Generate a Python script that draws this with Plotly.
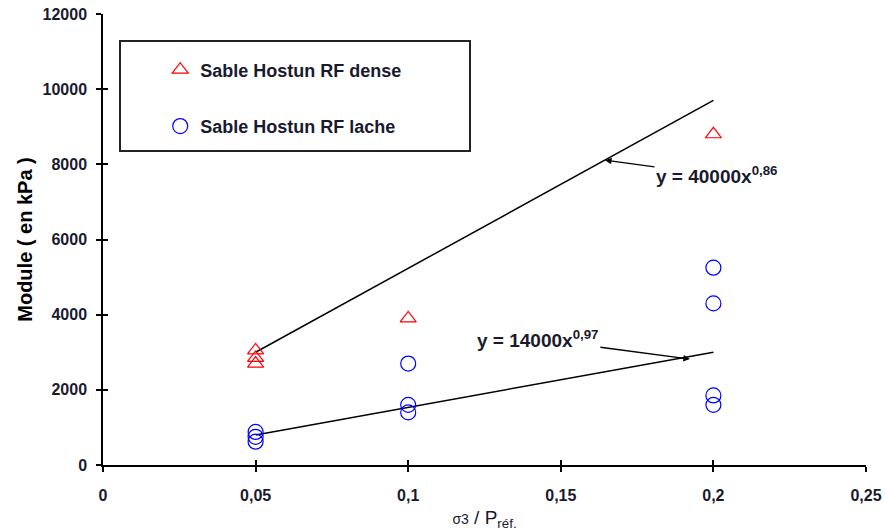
import plotly.graph_objects as go

# Data
dense_x = [0.05, 0.05, 0.05, 0.1, 0.2]
dense_y = [3050, 2850, 2700, 3900, 8800]
lache_x = [0.05, 0.05, 0.05, 0.1, 0.1, 0.1, 0.2, 0.2, 0.2, 0.2]
lache_y = [880, 750, 620, 2700, 1600, 1400, 5250, 4300, 1850, 1600]
fit_x = [0.05, 0.2]
fit_dense = [3000, 9700]
fit_lache = [800, 3000]
x_ticks = [0, 0.05, 0.1, 0.15, 0.2, 0.25]
x_labels = ["0", "0,05", "0,1", "0,15", "0,2", "0,25"]
y_ticks = [0, 2000, 4000, 6000, 8000, 10000, 12000]
y_labels = ["0", "2000", "4000", "6000", "8000", "10000", "12000"]
eq_dense = "y = 40000x<sup>0,86</sup>"
eq_lache = "y = 14000x<sup>0,97</sup>"
eq_dense_tip = (0.1645, 8110)
eq_lache_tip = (0.1923, 2820)

FONT = "Liberation Sans, Arial, sans-serif"
TXT = "#1a1a2e"

fig = go.Figure()
fig.add_trace(go.Scatter(x=fit_x, y=fit_dense, mode="lines",
                         line=dict(color="black", width=1.5), showlegend=False))
fig.add_trace(go.Scatter(x=fit_x, y=fit_lache, mode="lines",
                         line=dict(color="black", width=1.5), showlegend=False))
fig.add_trace(go.Scatter(x=dense_x, y=dense_y, mode="markers", name="Sable Hostun RF dense",
                         legendgroup="a",
                         marker=dict(symbol="triangle-up-open", size=14, color="#ff0000",
                                     line=dict(width=1.2, color="#ff0000"))))
fig.add_trace(go.Scatter(x=lache_x, y=lache_y, mode="markers", name="Sable Hostun RF lache",
                         legendgroup="b",
                         marker=dict(symbol="circle-open", size=15, color="#0000ff",
                                     line=dict(width=1.2, color="#0000ff"))))
# invisible trace carrying the mirrored (inside) ticks
fig.add_trace(go.Scatter(x=[None], y=[None], xaxis="x2", yaxis="y2", showlegend=False))

axis_common = dict(showgrid=False, zeroline=False, showline=True, linecolor="black",
                   linewidth=1.5, ticks="outside", ticklen=5, tickwidth=1.5, tickcolor="black",
                   automargin=False, ticklabeloverflow="allow",
                   tickfont=dict(family=FONT, size=16, color=TXT, weight="bold"))

fig.update_layout(
    width=885, height=531,
    margin=dict(l=103, r=19, t=14, b=66),
    paper_bgcolor="white", plot_bgcolor="white",
    xaxis=dict(range=[0, 0.25], tickvals=x_ticks, ticktext=x_labels,
               ticklabelstandoff=10,
               title=dict(text="<span style='font-size:14px'>σ3</span> / P<sub>réf.</sub>",
                          font=dict(family=FONT, size=19, color=TXT), standoff=9),
               **axis_common),
    yaxis=dict(range=[0, 12000], tickvals=y_ticks, ticktext=y_labels, ticklabelstandoff=6,
               title=dict(text="Module ( en kPa )",
                          font=dict(family=FONT, size=20, color="black", weight="bold"),
                          standoff=5),
               **axis_common),
    xaxis2=dict(range=[0, 0.25], tickvals=x_ticks, overlaying="x", showticklabels=False,
                showgrid=False, zeroline=False, showline=False, ticks="inside", ticklen=5,
                tickwidth=1.5, tickcolor="black", anchor="y2", automargin=False),
    yaxis2=dict(range=[0, 12000], tickvals=y_ticks, overlaying="y", showticklabels=False,
                showgrid=False, zeroline=False, showline=False, ticks="inside", ticklen=5,
                tickwidth=1.5, tickcolor="black", anchor="x2", automargin=False),
    legend=dict(x=0.075, y=0.917, xanchor="left", yanchor="top", bgcolor="rgba(0,0,0,0)",
                borderwidth=0, traceorder="grouped", tracegroupgap=30,
                font=dict(family=FONT, size=18, color=TXT, weight="bold")),
    shapes=[dict(type="rect", xref="paper", yref="paper", x0=0.0223, x1=0.481,
                 y0=0.696, y1=0.940, line=dict(color="#222222", width=2))],
    annotations=[
        dict(x=eq_dense_tip[0], y=eq_dense_tip[1], xref="x", yref="y", text=eq_dense,
             showarrow=True, arrowhead=2, arrowsize=1, arrowwidth=1.3, arrowcolor="black",
             ax=112, ay=15, font=dict(family=FONT, size=19, color=TXT, weight="bold")),
        dict(x=eq_lache_tip[0], y=eq_lache_tip[1], xref="x", yref="y", text=eq_lache,
             showarrow=True, arrowhead=2, arrowsize=1, arrowwidth=1.3, arrowcolor="black",
             ax=-152, ay=-20, font=dict(family=FONT, size=19, color=TXT, weight="bold")),
    ],
)

# remove the default 8px page margin so the figure sits at the window's top-left corner
fig.write_html("out.html", config={"displayModeBar": False},
               post_script="document.body.style.margin='0';")
